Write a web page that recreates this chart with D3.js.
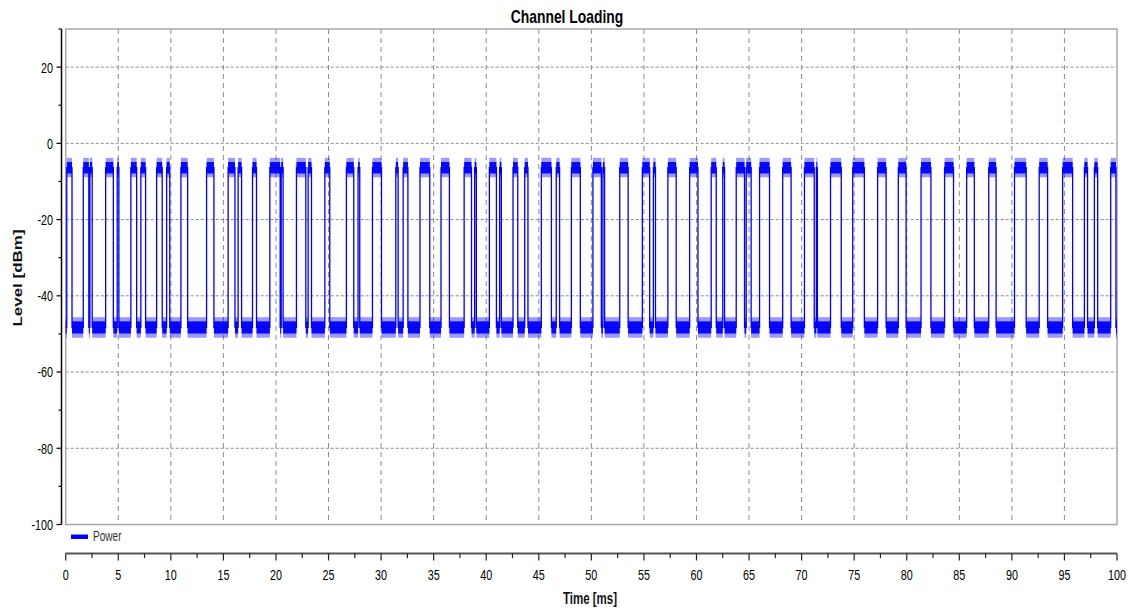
<!DOCTYPE html>
<html><head><meta charset="utf-8">
<script src="https://cdn.jsdelivr.net/npm/d3@7"></script>
<style>
html,body{margin:0;padding:0;background:#fff;}
svg{display:block;}
</style></head><body>
<svg id="chart" width="1132" height="612"></svg>
<script>
// ---------- data ----------
const chartTitle = "Channel Loading";
const xTitle = "Time [ms]";
const yTitle = "Level [dBm]";
const seriesName = "Power";
const xDomain = [0, 100];
const yDomain = [-100, 30];
const xMajorTicks = [0,5,10,15,20,25,30,35,40,45,50,55,60,65,70,75,80,85,90,95,100];
const xMinorTicks = [2.5,7.5,12.5,17.5,22.5,27.5,32.5,37.5,42.5,47.5,52.5,57.5,62.5,67.5,72.5,77.5,82.5,87.5,92.5,97.5];
const yMajorTicks = [-100,-80,-60,-40,-20,0,20];
const yMinorTicks = [-90,-70,-50,-30,-10,10,30];
const xGrid = [5,10,15,20,25,30,35,40,45,50,55,60,65,70,75,80,85,90,95];
const yGrid = [-80,-60,-40,-20,0,20];

// burst on/off times (ms)
const pulseStart = [0.1,1.67,2.3,3.8,4.9,6.2,7.15,8.65,9.6,10.96,13.4,15.45,16.4,17.77,19.42,20.5,21.95,23.06,24.65,26.7,27.81,29.18,31.4,32.1,33.7,35.7,37.9,38.9,40.3,41.28,42.55,43.66,45.24,46.66,48.1,50.15,51.1,52.7,54.85,55.9,57.28,59.35,61.4,62.5,63.78,64.73,66.0,68.2,70.27,71.4,72.75,74.86,77.23,79.2,81.36,83.6,85.7,87.8,90.25,92.6,94.83,96.9,97.85,99.4];
const pulseEnd   = [0.6,2.2,2.52,4.53,5.06,6.75,7.6,9.18,9.9,11.6,14.1,16.1,16.73,18.15,20.4,20.68,22.84,23.38,25.12,27.4,27.97,30.04,31.62,32.55,34.63,36.5,38.6,39.06,40.97,41.44,43.0,43.97,46.2,46.98,48.95,50.95,51.26,53.5,55.55,56.1,58.07,60.14,61.88,62.67,64.57,65.2,66.95,69.0,71.2,71.5,73.77,75.97,78.04,79.94,82.3,84.45,86.43,88.5,91.36,93.4,95.78,97.2,98.16,99.9];
const highLevel = -6.4;           // dBm, burst level
const lowLevel = -48.3;           // dBm, idle level
const highSpread = [-7.9, -4.9];  // dBm, dense noise band when on
const highPeaks  = [-8.9, -3.8];  // dBm, noise extremes when on
const lowSpread  = [-49.9, -46.7];
const lowPeaks   = [-51.0, -45.6];

// ---------- layout ----------
const svg = d3.select("#chart");
const L = 65.7, R = 1117, T = 29, B = 524.5;
const x = d3.scaleLinear().domain(xDomain).range([L, R]);
const y = d3.scaleLinear().domain(yDomain).range([B, T]);
const SX = 0.72; // horizontal squeeze of the text in the reference
const FONT = "'Liberation Sans', Arial, sans-serif";

// grid
svg.append("g").selectAll("line").data(xGrid).join("line")
  .attr("x1", d => x(d)).attr("x2", d => x(d)).attr("y1", T).attr("y2", B)
  .attr("stroke", "#8c8c8c").attr("stroke-width", 1).attr("stroke-dasharray", "5,4");
svg.append("g").selectAll("line").data(yGrid).join("line")
  .attr("x1", L).attr("x2", R).attr("y1", d => y(d)).attr("y2", d => y(d))
  .attr("stroke", "#8c8c8c").attr("stroke-width", 1).attr("stroke-dasharray", "3,2");

// plot box
svg.append("rect").attr("x", L).attr("y", T).attr("width", R - L).attr("height", B - T)
  .attr("fill", "none").attr("stroke", "#a8a8a8").attr("stroke-width", 1.5);

// ---------- trace ----------
const gTrace = svg.append("g");
const highRuns = pulseStart.map((s, i) => [s, pulseEnd[i]]);
const lowRuns = [];
let prev = xDomain[0];
highRuns.forEach(r => { lowRuns.push([prev, r[0]]); prev = r[1]; });
lowRuns.push([prev, xDomain[1]]);

function bands(runs, spread, peaks) {
  gTrace.append("g").selectAll("rect").data(runs).join("rect")
    .attr("x", d => x(d[0])).attr("width", d => Math.max(0.8, x(d[1]) - x(d[0])))
    .attr("y", y(peaks[1])).attr("height", y(peaks[0]) - y(peaks[1]))
    .attr("fill", "#0000ff").attr("opacity", 0.4);
  gTrace.append("g").selectAll("rect").data(runs).join("rect")
    .attr("x", d => x(d[0])).attr("width", d => Math.max(0.8, x(d[1]) - x(d[0])))
    .attr("y", y(spread[1])).attr("height", y(spread[0]) - y(spread[1]))
    .attr("fill", "#0000ff").attr("opacity", 0.95);
}
bands(lowRuns, lowSpread, lowPeaks);
bands(highRuns, highSpread, highPeaks);

const trace = [[xDomain[0], lowLevel]];
pulseStart.forEach((s, i) => {
  trace.push([s, lowLevel], [s, highLevel], [pulseEnd[i], highLevel], [pulseEnd[i], lowLevel]);
});
trace.push([xDomain[1], lowLevel]);
gTrace.append("path").datum(trace)
  .attr("d", d3.line().x(d => x(d[0])).y(d => y(d[1])))
  .attr("fill", "none").attr("stroke", "#0000ff").attr("stroke-width", 1.3);

// ---------- y axis ----------
const yAxX = 61.5;
const gy = svg.append("g").attr("transform", `translate(${yAxX},0)`);
gy.append("line").attr("x1", 0).attr("x2", 0).attr("y1", T).attr("y2", B)
  .attr("stroke", "#000").attr("stroke-width", 1.5);
gy.selectAll("line.maj").data(yMajorTicks).join("line").attr("class", "maj")
  .attr("x1", -5).attr("x2", 0).attr("y1", d => y(d)).attr("y2", d => y(d))
  .attr("stroke", "#000").attr("stroke-width", 1.2);
gy.selectAll("line.min").data(yMinorTicks).join("line").attr("class", "min")
  .attr("x1", -3).attr("x2", 0).attr("y1", d => y(d)).attr("y2", d => y(d))
  .attr("stroke", "#000").attr("stroke-width", 1.2);
gy.selectAll("text").data(yMajorTicks).join("text")
  .attr("transform", d => `translate(-8.5,${y(d) + 5.4}) scale(${SX},1)`)
  .attr("text-anchor", "end").attr("font-family", FONT).attr("font-size", 15)
  .attr("fill", "#000").text(d => String(d));

// ---------- x axis ----------
const xAxY = 553.5;
const gx = svg.append("g").attr("transform", `translate(0,${xAxY})`);
gx.append("line").attr("x1", L).attr("x2", R).attr("y1", 0).attr("y2", 0)
  .attr("stroke", "#555").attr("stroke-width", 2);
gx.selectAll("line.maj").data(xMajorTicks).join("line").attr("class", "maj")
  .attr("x1", d => x(d)).attr("x2", d => x(d)).attr("y1", 0).attr("y2", 7)
  .attr("stroke", "#222").attr("stroke-width", 1.2);
gx.selectAll("line.min").data(xMinorTicks).join("line").attr("class", "min")
  .attr("x1", d => x(d)).attr("x2", d => x(d)).attr("y1", 0).attr("y2", 4.5)
  .attr("stroke", "#222").attr("stroke-width", 1.2);
gx.selectAll("text").data(xMajorTicks).join("text")
  .attr("transform", d => `translate(${x(d)},26) scale(${SX},1)`)
  .attr("text-anchor", "middle").attr("font-family", FONT).attr("font-size", 15)
  .attr("fill", "#000").text(d => String(d));

// ---------- titles ----------
svg.append("text").attr("transform", `translate(567,23) scale(0.77,1)`)
  .attr("text-anchor", "middle").attr("font-family", FONT).attr("font-weight", "bold")
  .attr("font-size", 18).attr("fill", "#000").text(chartTitle);
svg.append("text").attr("transform", `translate(590,604) scale(${SX},1)`)
  .attr("text-anchor", "middle").attr("font-family", FONT).attr("font-weight", "bold")
  .attr("font-size", 16).attr("fill", "#111").text(xTitle);
svg.append("text").attr("transform", `translate(22,278) scale(0.75,1) rotate(-90)`)
  .attr("text-anchor", "middle").attr("font-family", FONT).attr("font-weight", "bold")
  .attr("font-size", 17).attr("fill", "#111").text(yTitle);

// ---------- legend ----------
const gl = svg.append("g");
gl.append("rect").attr("x", 71).attr("y", 534.5).attr("width", 17).attr("height", 4.5).attr("fill", "#0000ff");
gl.append("text").attr("transform", `translate(93,540.5) scale(${SX},1)`)
  .attr("font-family", FONT).attr("font-size", 14).attr("fill", "#333").text(seriesName);
</script>
</body></html>
